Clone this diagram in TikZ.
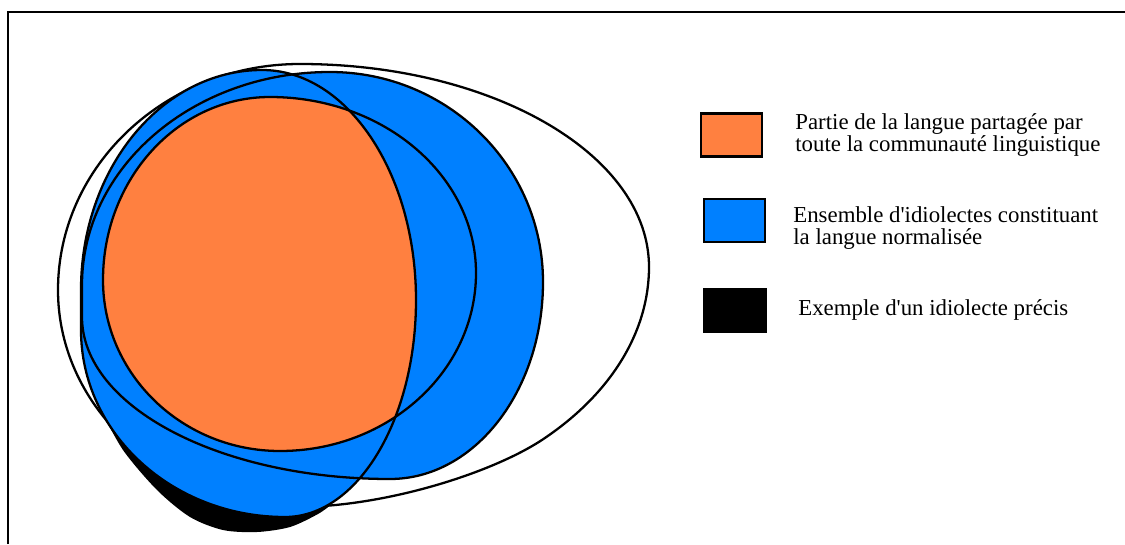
\documentclass[tikz,border=0pt]{standalone}
\usepackage{fontspec}
\setmainfont{Liberation Serif}
\definecolor{lgorange}{RGB}{255,128,64}
\definecolor{lgblue}{RGB}{0,128,255}

% one pixel of the drawing
\def\pxu{0.02cm}
% outlines of the sets, quarter ellipses (pixel coordinates)
\def\langueOuter{(300,64)
  arc[start angle=90,  end angle=0,    x radius=349*\pxu, y radius=203*\pxu]
  arc[start angle=0,   end angle=-45,  x radius=349*\pxu, y radius=240*\pxu]
  .. controls (498,471) and (390,506) .. (300,507)
  arc[start angle=-90, end angle=-180, x radius=242*\pxu, y radius=217*\pxu]
  arc[start angle=180, end angle=90,   x radius=242*\pxu, y radius=226*\pxu] -- cycle}
\def\idioTilt{(262,70)
  arc[start angle=90,  end angle=0,    x radius=154*\pxu, y radius=230*\pxu]
  arc[start angle=0,   end angle=-90,  x radius=131*\pxu, y radius=217*\pxu]
  arc[start angle=-90, end angle=-180, x radius=204*\pxu, y radius=187*\pxu] -- (81,290)
  arc[start angle=180, end angle=90,   x radius=181*\pxu, y radius=220*\pxu] -- cycle}
\def\idioRight{(330,72)
  arc[start angle=90,  end angle=0,    x radius=213*\pxu, y radius=210*\pxu]
  arc[start angle=0,   end angle=-90,  x radius=153*\pxu, y radius=197*\pxu]
  arc[start angle=-90, end angle=-180, x radius=308*\pxu, y radius=162*\pxu] -- (82,285)
  arc[start angle=180, end angle=90,   x radius=248*\pxu, y radius=213*\pxu] -- cycle}
\def\idioInner{(270,97)
  arc[start angle=90,  end angle=0,    x radius=206*\pxu, y radius=176*\pxu]
  arc[start angle=0,   end angle=-90,  x radius=196*\pxu, y radius=178*\pxu]
  arc[start angle=-90, end angle=-180, x radius=177*\pxu, y radius=171*\pxu]
  arc[start angle=180, end angle=90,   x radius=167*\pxu, y radius=183*\pxu] -- cycle}

\begin{document}
\begin{tikzpicture}[x=0.02cm, y=-0.02cm,
  idio/.style={draw=black, line width=1.3pt},
  swatch/.style={rectangle, draw=black, line width=1.6pt,
                 minimum width=1.22cm, minimum height=0.86cm, inner sep=0pt},
  legtext/.style={anchor=west, align=left, inner sep=0pt,
                  font=\fontsize{13pt}{13pt}\selectfont}
]
\useasboundingbox (0,0) rectangle (1125,544);
% Frame
\draw[line width=0.8pt] (8,544) -- (8,12) -- (1125,12);

% Idiolect sets
\fill[black] plot[smooth] coordinates {(100,408) (123,450) (157,490) (190,517) (223,530) (257,532) (290,527) (318,514) (332,504)} -- (320,470) -- (150,420) -- cycle;
\filldraw[idio, fill=white] \langueOuter;
\fill[lgblue] \idioRight;
\fill[lgblue] \idioTilt;
\begin{scope}
  \clip \idioTilt;
  \fill[lgorange] \idioInner;
\end{scope}
\draw[idio] \idioRight;
\draw[idio] \idioTilt;
\draw[idio] \idioInner;

% Legend
\node[swatch, fill=lgorange] (swShared) at (731.5,135)   {};
\node[swatch, fill=lgblue]   (swNorm)   at (734.5,220.5) {};
\node[swatch, fill=black]    (swIdio)   at (735,310.5)   {};

\node[legtext] (txShared) at (795,135) {Partie de la langue partagée par\\toute la communauté linguistique};
\node[legtext] (txNorm)   at (793,228) {Ensemble d\textquotesingle idiolectes constituant\\la langue normalisée};
\node[legtext] (txIdio)   at (798,310) {Exemple d\textquotesingle un idiolecte précis};
\end{tikzpicture}
\end{document}
